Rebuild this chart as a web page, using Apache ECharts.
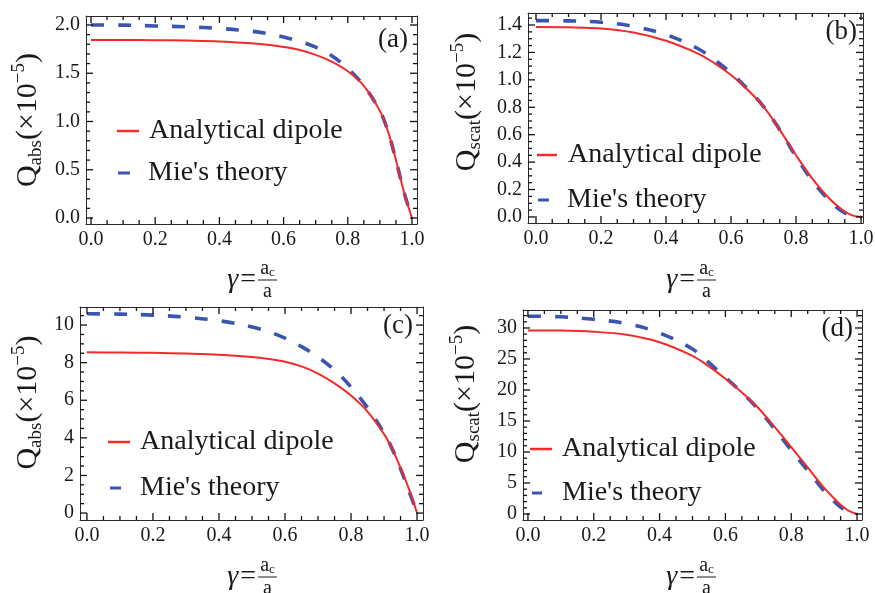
<!DOCTYPE html>
<html>
<head>
<meta charset="utf-8">
<script src="https://cdn.jsdelivr.net/npm/echarts@6/dist/echarts.min.js"></script>
<style>
  html, body { margin: 0; padding: 0; background: #fff; }
  #chart { width: 875px; height: 593px; }
</style>
</head>
<body>
<div id="chart"></div>
<script>
// ---------- data ----------
const gamma = [0, 0.1, 0.2, 0.3, 0.4, 0.5, 0.55, 0.6, 0.65, 0.7, 0.75, 0.8, 0.85, 0.9, 0.925, 0.95, 0.975, 1.0];

const absDipoleA = [1.845, 1.845, 1.843, 1.838, 1.83, 1.81, 1.795, 1.772, 1.74, 1.69, 1.62, 1.52, 1.37, 1.11, 0.9, 0.6, 0.27, 0];
const absMieA    = [2.0, 1.998, 1.99, 1.98, 1.965, 1.935, 1.91, 1.875, 1.83, 1.77, 1.68, 1.55, 1.37, 1.11, 0.9, 0.6, 0.27, 0];

const scatDipoleB = [1.385, 1.383, 1.375, 1.345, 1.285, 1.19, 1.12, 1.035, 0.93, 0.805, 0.635, 0.45, 0.28, 0.14, 0.085, 0.04, 0.01, 0];
const scatMieB    = [1.432, 1.43, 1.42, 1.39, 1.33, 1.225, 1.145, 1.05, 0.935, 0.805, 0.635, 0.44, 0.265, 0.125, 0.07, 0.03, 0.008, 0];

const absDipoleC = [8.55, 8.54, 8.52, 8.48, 8.42, 8.3, 8.2, 8.05, 7.8, 7.42, 6.9, 6.25, 5.4, 4.2, 3.4, 2.4, 1.3, 0];
const absMieC    = [10.6, 10.58, 10.53, 10.42, 10.23, 9.9, 9.65, 9.3, 8.85, 8.3, 7.6, 6.7, 5.6, 4.25, 3.4, 2.35, 1.2, 0];

const scatDipoleD = [29.6, 29.58, 29.4, 28.9, 27.7, 25.5, 23.8, 21.8, 19.6, 17.1, 14.0, 10.8, 7.5, 4.2, 2.8, 1.5, 0.5, 0];
const scatMieD    = [31.9, 31.8, 31.4, 30.7, 29.2, 26.6, 24.4, 22.0, 19.6, 16.9, 13.7, 10.3, 7.0, 3.7, 2.3, 1.1, 0.3, 0];

const xTicks  = [0, 0.2, 0.4, 0.6, 0.8, 1.0];
const yTicksA = [0, 0.5, 1.0, 1.5, 2.0];
const yTicksB = [0, 0.2, 0.4, 0.6, 0.8, 1.0, 1.2, 1.4];
const yTicksC = [0, 2, 4, 6, 8, 10];
const yTicksD = [0, 5, 10, 15, 20, 25, 30];

const seriesNames = ['Analytical dipole', "Mie's theory"];
const panelTags = ['(a)', '(b)', '(c)', '(d)'];

// ---------- layout / style ----------
const FONT = "'Liberation Serif', 'Times New Roman', serif";
const RED = '#f42a2a';
const BLUE = '#3a55b0';
const INK = '#1a1a1a';
const FRAME = '#2a2a2a';

function minorsOf(majors, n, lo, hi) {
  const step = (majors[1] - majors[0]) / n;
  const out = [];
  for (let k = -4; k <= (majors.length - 1) * n + 4; k++) {
    const r = Math.round((majors[0] + k * step) * 1e6) / 1e6;
    if (r > lo && r < hi && k % n !== 0) out.push(r);
  }
  return out;
}

const panels = [
  { grid: {left: 86, top: 16, width: 331, height: 208}, x: [-0.0156, 1.0156], y: [-0.062, 2.093],
    yTicks: yTicksA, yMinorN: 5, yDec: 1, ys: [absDipoleA, absMieA],
    yMain: 'abs', nameGap: 40, namePad: [0, 0, 0, 0], tag: {x: 408, y: 40},
    xName: {lx: 258, ly: 280},
    leg: [{left: 117, top: 116, w: 22, pad: 5}, {left: 118, top: 158, w: 12, pad: 13}] },
  { grid: {left: 528, top: 13, width: 335, height: 210}, x: [-0.0246, 1.006], y: [-0.044, 1.4875],
    yTicks: yTicksB, yMinorN: 4, yDec: 1, ys: [scatDipoleB, scatMieB],
    yMain: 'scat', nameGap: 43, namePad: [0, 0, 0, 32], tag: {x: 857, y: 32},
    xName: {lx: 697, ly: 280},
    leg: [{left: 537, top: 140, w: 20, pad: 6}, {left: 538, top: 185, w: 11, pad: 13}] },
  { grid: {left: 80, top: 307, width: 343, height: 213}, x: [-0.021, 1.018], y: [-0.37, 10.96],
    yTicks: yTicksC, yMinorN: 4, yDec: 0, ys: [absDipoleC, absMieC],
    yMain: 'abs', nameGap: 34, namePad: [0, 0, 0, 22], tag: {x: 413, y: 326},
    xName: {lx: 258, ly: 577},
    leg: [{left: 108, top: 427, w: 22, pad: 5}, {left: 110, top: 473, w: 11, pad: 14}] },
  { grid: {left: 523, top: 310, width: 339, height: 210}, x: [-0.015, 1.015], y: [-0.97, 32.9],
    yTicks: yTicksD, yMinorN: 5, yDec: 0, ys: [scatDipoleD, scatMieD],
    yMain: 'scat', nameGap: 39, namePad: [0, 0, 0, 42], tag: {x: 853, y: 329},
    xName: {lx: 697, ly: 577},
    leg: [{left: 530, top: 434, w: 22, pad: 5}, {left: 532, top: 478, w: 10, pad: 15}] }
];

const grids = [], xAxes = [], yAxes = [], series = [], legends = [], graphics = [];

function axis(gi, pos, range, values, label) {
  return {
    type: 'value', gridIndex: gi, position: pos, min: range[0], max: range[1],
    splitLine: {show: false},
    axisLine: {show: true, onZero: false, lineStyle: {color: FRAME, width: 1}},
    axisTick: {show: false},
    axisLabel: label ? Object.assign({show: true, customValues: values, fontFamily: FONT, fontSize: 20, color: INK, margin: 6}, label) : {show: false},
    axisPointer: {show: false}
  };
}

panels.forEach((p, gi) => {
  grids.push(Object.assign({outerBoundsMode: 'none', containLabel: false}, p.grid));
  const xFmt = v => Number(v).toFixed(1);
  const yFmt = v => Number(v).toFixed(p.yDec);
  xAxes.push(axis(gi, 'bottom', p.x, xTicks, {formatter: xFmt}));
  xAxes.push(axis(gi, 'top', p.x, xTicks, null));
  const yMain = axis(gi, 'left', p.y, p.yTicks, {formatter: yFmt});
  yMain.name = '{q|Q}{sb|' + p.yMain + '}{q|(×10}{sp|−5}{q|)}';
  yMain.nameLocation = 'middle';
  yMain.nameGap = p.nameGap;
  yMain.nameRotate = 90;
  yMain.nameTextStyle = {
    padding: p.namePad,
    rich: {
      q: {fontSize: 30, fontFamily: FONT, color: INK, lineHeight: 36, verticalAlign: 'middle'},
      sb: {fontSize: 19, fontFamily: FONT, color: INK, verticalAlign: 'bottom'},
      sp: {fontSize: 19, fontFamily: FONT, color: INK, verticalAlign: 'top'}
    }
  };
  yAxes.push(yMain);
  yAxes.push(axis(gi, 'right', p.y, p.yTicks, null));

  series.push({
    name: seriesNames[0], type: 'line', xAxisIndex: gi * 2, yAxisIndex: gi * 2,
    data: gamma.map((g, i) => [g, p.ys[0][i]]), showSymbol: false, smooth: 0.35,
    color: RED, lineStyle: {color: RED, width: 2}, z: 3
  });
  series.push({
    name: seriesNames[1], type: 'line', xAxisIndex: gi * 2, yAxisIndex: gi * 2,
    data: gamma.map((g, i) => [g, p.ys[1][i]]), showSymbol: false, smooth: 0.35,
    color: BLUE, lineStyle: {color: BLUE, width: 3.6, type: [13, 14]}, z: 2
  });

  p.leg.forEach((l, k) => {
    legends.push({
      data: [seriesNames[k]], left: l.left, top: l.top, padding: 0,
      icon: 'rect', itemWidth: l.w, itemHeight: k === 0 ? 2.5 : 3, selectedMode: false,
      itemStyle: {color: k === 0 ? RED : BLUE},
      textStyle: {fontFamily: FONT, fontSize: 28, color: INK, lineHeight: 30, padding: [0, 0, 0, l.pad]}
    });
  });

  graphics.push({
    type: 'text', x: p.tag.x, y: p.tag.y, z: 10,
    style: {text: panelTags[gi], fontFamily: FONT, fontSize: 27, fill: INK, align: 'right', verticalAlign: 'middle'}
  });
  const lx = p.xName.lx, ly = p.xName.ly, fw = 19;
  graphics.push({
    type: 'text', x: lx - 2, y: ly, z: 10,
    style: {
      text: '{g|γ}{e|=}', align: 'right', verticalAlign: 'middle',
      rich: {
        g: {fontFamily: FONT, fontSize: 28, fontStyle: 'italic', fill: INK, color: INK},
        e: {fontFamily: FONT, fontSize: 28, fill: INK, color: INK, padding: [0, 0, 0, 2]}
      }
    }
  });
  graphics.push({
    type: 'text', x: lx + fw / 2, y: ly - 1, z: 10,
    style: {
      text: '{a|a}{c|c}', align: 'center', verticalAlign: 'bottom',
      rich: {
        a: {fontFamily: FONT, fontSize: 20, fill: INK, color: INK},
        c: {fontFamily: FONT, fontSize: 13, fill: INK, color: INK, verticalAlign: 'bottom'}
      }
    }
  });
  graphics.push({
    type: 'line', z: 10, shape: {x1: lx, y1: ly, x2: lx + fw, y2: ly},
    style: {stroke: INK, lineWidth: 1}
  });
  graphics.push({
    type: 'text', x: lx + fw / 2, y: ly + 2, z: 10,
    style: {text: 'a', fontFamily: FONT, fontSize: 20, fill: INK, align: 'center', verticalAlign: 'top'}
  });
});

// ---------- frame ticks built from the axes' scales ----------
const MAJOR = 7, MINOR = 4;
function buildTicks(chart) {
  const els = [];
  function tick(x1, y1, x2, y2) {
    els.push({type: 'line', z: 50, shape: {x1: x1, y1: y1, x2: x2, y2: y2},
      style: {stroke: '#111', lineWidth: 1.3}});
  }
  panels.forEach((p, gi) => {
    const g = p.grid;
    const top = g.top, bottom = g.top + g.height, left = g.left, right = g.left + g.width;
    const toPx = (vx, vy) => chart.convertToPixel({gridIndex: gi}, [vx, vy]);
    const xs = [[xTicks, MAJOR], [minorsOf(xTicks, 4, p.x[0], p.x[1]), MINOR]];
    xs.forEach(pair => pair[0].forEach(v => {
      const px = toPx(v, 0)[0];
      tick(px, bottom, px, bottom - pair[1]);
      tick(px, top, px, top + pair[1]);
    }));
    const ys = [[p.yTicks, MAJOR], [minorsOf(p.yTicks, p.yMinorN, p.y[0], p.y[1]), MINOR]];
    ys.forEach(pair => pair[0].forEach(v => {
      const py = toPx(0, v)[1];
      tick(left, py, left + pair[1], py);
      tick(right, py, right - pair[1], py);
    }));
  });
  return els;
}

const chart = echarts.init(document.getElementById('chart'), null, {renderer: 'canvas'});
chart.setOption({
  animation: false,
  backgroundColor: '#fff',
  grid: grids,
  xAxis: xAxes,
  yAxis: yAxes,
  legend: legends,
  series: series
});
const tickEls = buildTicks(chart);
chart.setOption({graphic: {elements: graphics.concat(tickEls)}});
</script>
</body>
</html>
